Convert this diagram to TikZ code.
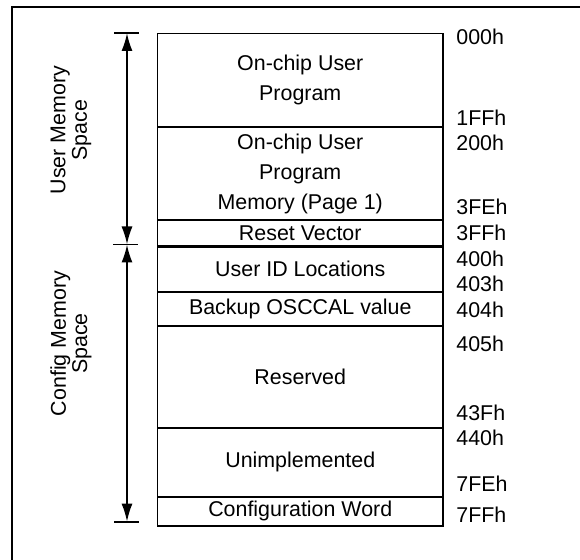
\documentclass[tikz,border=0pt]{standalone}
\usepackage{fontspec}
\setmainfont{Liberation Sans}
\usetikzlibrary{arrows.meta,positioning}

\begin{document}
\begin{tikzpicture}[
    x=0.5pt,y=-0.5pt,
    memcell/.style={draw,line width=0.85pt,inner sep=0pt,outer sep=0pt,
                    minimum width=142.75pt,align=center,
                    font=\fontsize{10.7}{15}\selectfont},
    addr/.style={anchor=west,inner sep=0pt,font=\fontsize{10.7}{12}\selectfont},
    spacelbl/.style={rotate=90,align=center,inner sep=0pt,
                     font=\fontsize{10.7}{10.7}\selectfont},
    spantick/.style={line width=0.9pt},
    >={Latex[length=9pt,width=5.5pt]}
  ]
  \useasboundingbox (0,0) rectangle (580,560);
  \draw[line width=1.1pt] (580,7) -- (12,7) -- (12,560);

  % memory map
  \node[memcell,minimum height=46.75pt,anchor=north west] (userprog) at (157.5,33.5) {On-chip User\\Program};
  \node[memcell,minimum height=46.5pt,below=0pt of userprog] (userpage) {On-chip User\\Program\\Memory (Page 1)};
  \node[memcell,minimum height=13.25pt,below=0pt of userpage] (resetvec) {Reset Vector};
  \node[memcell,minimum height=22.6pt,below=0pt of resetvec] (userid) {User ID Locations};
  \node[memcell,minimum height=17pt,below=0pt of userid] (oscbak) {Backup OSCCAL value};
  \node[memcell,minimum height=51pt,below=0pt of oscbak] (rsvd) {Reserved};
  \node[memcell,minimum height=34.65pt,below=0pt of rsvd] (unimpl) {Unimplemented};
  \node[memcell,minimum height=14.35pt,below=0pt of unimpl] (cfgword) {Configuration Word};
  \draw[line width=1.3pt] (resetvec.south west) -- (resetvec.south east);

  % addresses
  \node[addr] (a000) at (456,37.3) {000h};
  \node[addr] (a1ff) at (456,117.5) {1FFh};
  \node[addr] (a200) at (456,142.5) {200h};
  \node[addr] (a3fe) at (456,206.7) {3FEh};
  \node[addr] (a3ff) at (456,233) {3FFh};
  \node[addr] (a400) at (456,258.7) {400h};
  \node[addr] (a403) at (456,284) {403h};
  \node[addr] (a404) at (456,310.3) {404h};
  \node[addr] (a405) at (456,344) {405h};
  \node[addr] (a43f) at (456,413.3) {43Fh};
  \node[addr] (a440) at (456,438.3) {440h};
  \node[addr] (a7fe) at (456,483.7) {7FEh};
  \node[addr] (a7ff) at (456,515) {7FFh};

  % spans
  \coordinate (spantop) at (127,33);
  \coordinate (spanmid) at (127,244.5);
  \coordinate (spanbot) at (127,521.7);
  \draw[spantick] ([xshift=-6.5pt]spantop) -- ([xshift=6pt]spantop);
  \draw[spantick] ([xshift=-7pt]spanmid) -- ([xshift=5.5pt]spanmid);
  \draw[spantick] ([xshift=-6.5pt]spanbot) -- ([xshift=6pt]spanbot);
  \draw[<->,line width=0.9pt] (spantop) -- (spanmid);
  \draw[<->,line width=0.9pt] (spanmid) -- (spanbot);
  \node[spacelbl] (usrlbl) at (71,130) {User Memory\\Space};
  \node[spacelbl] (cfglbl) at (71,343.5) {Config Memory\\Space};
\end{tikzpicture}
\end{document}
